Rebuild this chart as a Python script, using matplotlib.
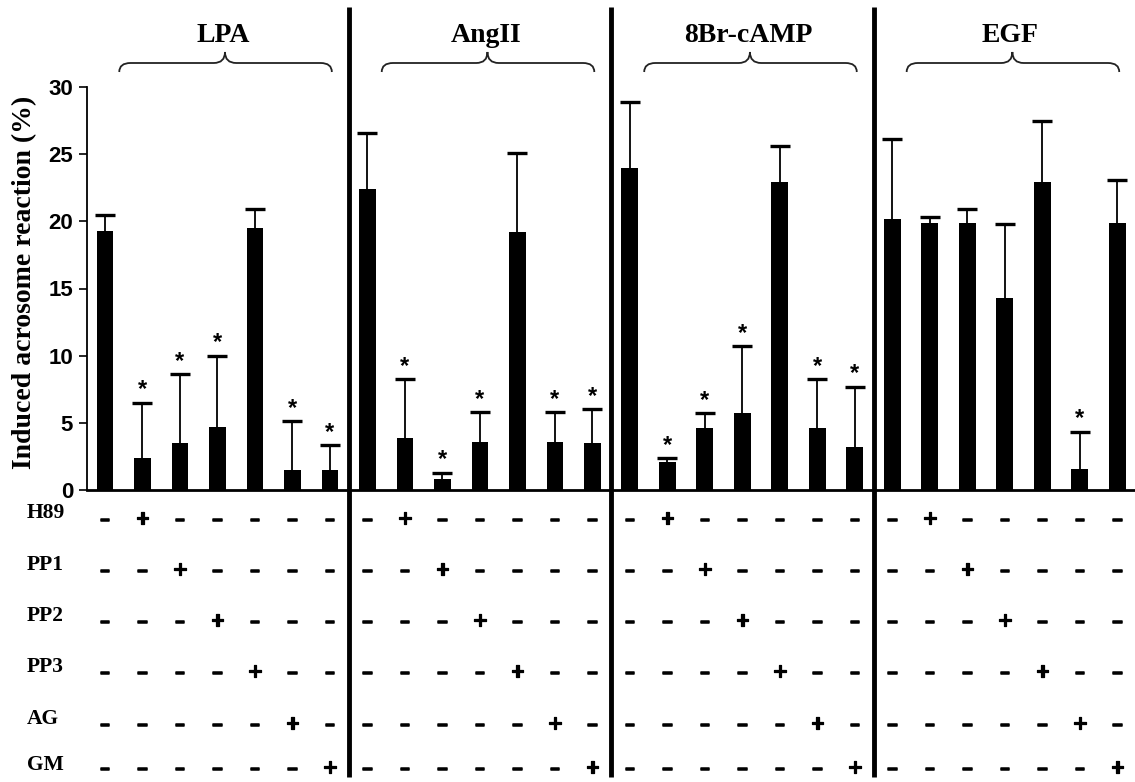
import matplotlib
matplotlib.use("Agg")
import matplotlib.pyplot as plt
from matplotlib.path import Path
from matplotlib.patches import PathPatch
import matplotlib.patheffects as pe
import numpy as np

# ---------------- data ----------------
groups = ["LPA", "AngII", "8Br-cAMP", "EGF"]
means_LPA = [19.3, 2.4, 3.5, 4.7, 19.5, 1.5, 1.5]
err_LPA = [1.2, 4.1, 5.1, 5.3, 1.4, 3.6, 1.85]
means_AngII = [22.4, 3.85, 0.8, 3.6, 19.2, 3.6, 3.5]
err_AngII = [4.2, 4.4, 0.5, 2.2, 5.9, 2.2, 2.5]
means_8Br = [24.0, 2.1, 4.6, 5.75, 22.95, 4.6, 3.2]
err_8Br = [4.9, 0.25, 1.1, 4.95, 2.65, 3.65, 4.5]
means_EGF = [20.2, 19.9, 19.9, 14.3, 22.95, 1.6, 19.85]
err_EGF = [5.9, 0.4, 1.0, 5.5, 4.55, 2.75, 3.25]
sig_LPA = [0, 1, 1, 1, 0, 1, 1]
sig_AngII = [0, 1, 1, 1, 0, 1, 1]
sig_8Br = [0, 1, 1, 1, 0, 1, 1]
sig_EGF = [0, 0, 0, 0, 0, 1, 0]

treatments = ["H89", "PP1", "PP2", "PP3", "AG", "GM"]
treat_pattern = ["-+-----", "--+----", "---+---", "----+--", "-----+-", "------+"]

yticks = [0, 5, 10, 15, 20, 25, 30]
ylabel = "Induced acrosome reaction (%)"

means = [means_LPA, means_AngII, means_8Br, means_EGF]
errs = [err_LPA, err_AngII, err_8Br, err_EGF]
sigs = [sig_LPA, sig_AngII, sig_8Br, sig_EGF]

# ---------------- figure ----------------
W, H = 1135, 782
fig = plt.figure(figsize=(W / 100, H / 100), dpi=100)
ax_left, ax_right = 87, 1135
y0_px, y30_px = 490, 87
ax = fig.add_axes([ax_left / W, (H - y0_px) / H, (ax_right - ax_left) / W,
                   (y0_px - y30_px) / H])

n_per = 7
x_all = np.arange(len(groups) * n_per)
vals = np.concatenate(means)
evals = np.concatenate(errs)
sig_all = np.concatenate(sigs)

ax.bar(x_all, vals, width=0.45, color="black", zorder=3)
eb = ax.errorbar(x_all, vals, yerr=[np.zeros_like(evals), evals], fmt="none",
                 ecolor="black", elinewidth=1.3, capsize=7.5, capthick=2.4,
                 zorder=2)
# keep only the upper caps
caplines = eb.lines[1]
if len(caplines) == 2:
    caplines[0].set_visible(False)

ax.set_xlim(-0.48, 27.47)
ax.set_ylim(0, 30)
ax.set_yticks(yticks)
ax.set_yticklabels([str(t) for t in yticks], fontfamily="Liberation Sans",
                   fontweight="bold", fontsize=16)
ax.tick_params(axis="y", length=6, width=1.2, pad=4)
ax.set_xticks([])
for s in ["top", "right"]:
    ax.spines[s].set_visible(False)
ax.spines["left"].set_linewidth(1.3)
ax.spines["bottom"].set_linewidth(2.0)

# stars
for xi, v, e, s in zip(x_all, vals, evals, sig_all):
    if s:
        ax.annotate("*", (xi, v + e), xytext=(0, 1), textcoords="offset points",
                    ha="center", va="bottom", fontsize=17, fontweight="bold",
                    fontfamily="Liberation Sans", annotation_clip=False)

# dividers
px2axy = lambda ypx: (y0_px - ypx) / (y0_px - y30_px)
xtr = ax.get_xaxis_transform()
for g in range(1, len(groups)):
    xd = g * n_per - 0.5
    ax.plot([xd, xd], [px2axy(7), px2axy(777)], color="black", lw=3.5,
            transform=xtr, clip_on=False, solid_capstyle="butt")

# braces and group titles
def brace(x0, x1, xm, yb, yl, yt, dx):
    verts = [(x0, yb), (x0, yl), (x0 + dx, yl),
             (xm - dx, yl), (xm, yl), (xm, yt),
             (xm, yl), (xm + dx, yl),
             (x1 - dx, yl), (x1, yl), (x1, yb)]
    codes = [Path.MOVETO, Path.CURVE3, Path.CURVE3,
             Path.LINETO, Path.CURVE3, Path.CURVE3,
             Path.CURVE3, Path.CURVE3,
             Path.LINETO, Path.CURVE3, Path.CURVE3]
    return Path(verts, codes)

ppu_y = (y0_px - y30_px) / 30.0
px2dy = lambda ypx: (y0_px - ypx) / ppu_y
for g, name in enumerate(groups):
    base = g * n_per
    p = brace(base + 0.38, base + 6.05, base + 3.2,
              px2dy(72), px2dy(63), px2dy(52), 0.3)
    ax.add_patch(PathPatch(p, fill=False, lw=1.3, edgecolor="#222222",
                           clip_on=False))
    ax.text(base + 3.15, px2dy(35), name, ha="center", va="center",
            fontsize=20, fontweight="bold", fontfamily="Liberation Serif",
            clip_on=False)

# treatment table
row_sym_px = [520, 571, 622, 673, 725, 769]
row_lab_px = [513, 565, 616, 667, 719, 765]
thick = [pe.withStroke(linewidth=1.1, foreground="black")]
for r, (lab, pat) in enumerate(zip(treatments, treat_pattern)):
    fig.text(27 / W, 1 - row_lab_px[r] / H, lab, ha="left", va="center",
             fontsize=15.5, fontweight="bold", fontfamily="Liberation Serif")
    for g in range(len(groups)):
        for j, ch in enumerate(pat):
            if ch == "+":
                ax.text(g * n_per + j, px2axy(row_sym_px[r] - 1), "+", transform=xtr,
                        ha="center", va="center", fontsize=16.5, fontweight="bold",
                        fontfamily="Liberation Sans", clip_on=False,
                        path_effects=[pe.withStroke(linewidth=0.9, foreground="black")])
            else:
                ax.text(g * n_per + j, px2axy(row_sym_px[r]), "\u2013", transform=xtr,
                        ha="center", va="center", fontsize=12, fontweight="bold",
                        fontfamily="Liberation Sans", clip_on=False,
                        path_effects=thick)

fig.text(25 / W, 1 - 282 / H, ylabel, rotation=90, ha="center", va="center",
         fontsize=20, fontweight="bold", fontfamily="Liberation Serif")

fig.savefig("out.png", dpi=100, facecolor="white")
